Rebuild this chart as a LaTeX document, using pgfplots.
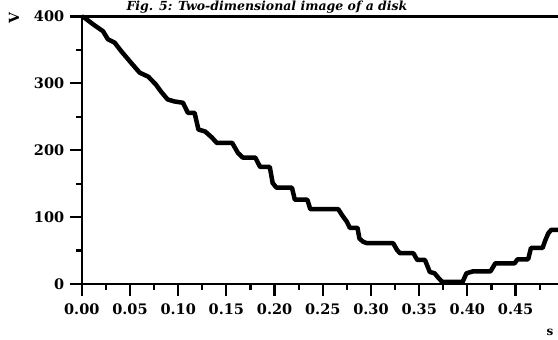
\documentclass[border=0pt]{standalone}
\usepackage{pgfplots}
\pgfplotsset{compat=1.18}
\usepackage{fontspec}
\setmainfont{DejaVu Serif}
\begin{document}
\begin{tikzpicture}[x=1pt,y=1pt]
\path[use as bounding box, clip] (0,0) rectangle (558,340);
\begin{axis}[
  at={(81.8pt,56pt)}, anchor=south west,
  scale only axis,
  width=482pt, height=267.5pt,
  xmin=0, xmax=0.5, ymin=0, ymax=400,
  axis line style={line width=2.2pt},
  xtick={0,0.05,...,0.451},
  minor xtick={0.025,0.075,...,0.5},
  ytick={0,100,200,300,400},
  minor ytick={50,150,250,350},
  xtick pos=bottom, ytick pos=left,
  tick align=outside,
  major tick length=12pt, minor tick length=6pt,
  every tick/.style={black, line width=2.2pt},
  xticklabels={0.00,0.05,0.10,0.15,0.20,0.25,0.30,0.35,0.40,0.45},
  /pgf/number format/assume math mode=true,
  ticklabel style={font=\bfseries\fontsize{14.5}{16}\selectfont},
  xticklabel style={yshift=-4pt},
  yticklabel style={xshift=-2pt},
  clip=false,
]
\addplot[black, line width=4.5pt, line join=round, line cap=butt] coordinates {
(0,400) (0.003,398) (0.012,388) (0.022,378) (0.027,366) (0.034,361)
(0.041,348) (0.051,331) (0.060,316) (0.069,310) (0.077,298) (0.082,288)
(0.089,276) (0.096,273) (0.105,271) (0.110,256) (0.117,256) (0.121,231)
(0.128,228) (0.135,219) (0.140,211) (0.156,211) (0.162,196) (0.167,189)
(0.180,189) (0.185,175) (0.195,175) (0.198,151) (0.202,144) (0.218,144)
(0.221,126) (0.234,126) (0.237,112) (0.266,112) (0.270,103) (0.275,93)
(0.278,84) (0.286,84) (0.288,68) (0.292,63) (0.296,61) (0.323,61)
(0.327,51) (0.330,46) (0.344,46) (0.348,36) (0.356,36) (0.361,18)
(0.366,16) (0.370,9) (0.374,3) (0.395,3) (0.399,16) (0.406,19)
(0.424,19) (0.429,31) (0.449,31) (0.452,37) (0.463,37) (0.466,54)
(0.478,54) (0.481,66) (0.484,76) (0.487,81) (0.50,81)
};
\end{axis}
\node[anchor=base, font=\bfseries\itshape\fontsize{12.5}{14}\selectfont] at (267,329) {Fig. 5: Two-dimensional image of a disk};
\node[rotate=90, font=\bfseries\fontsize{14}{16}\selectfont] at (14,322) {V};
\node[anchor=south east, font=\bfseries\fontsize{12}{14}\selectfont] at (557,0.5) {s};
\end{tikzpicture}
\end{document}
